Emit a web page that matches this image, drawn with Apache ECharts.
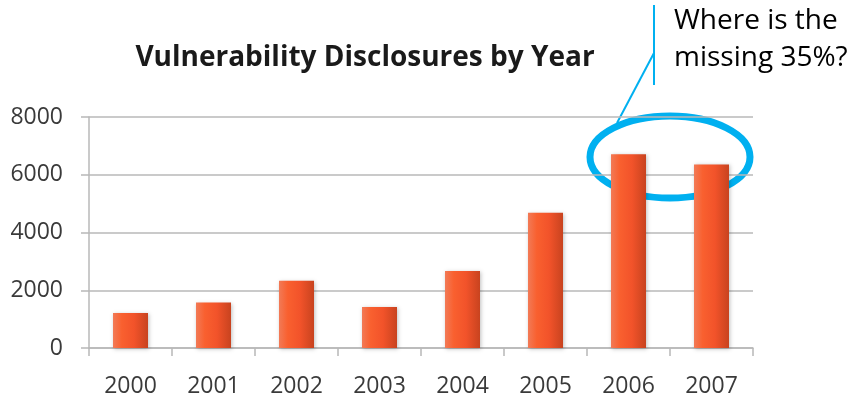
<!DOCTYPE html>
<html>
<head>
<meta charset="utf-8">
<script src="https://cdn.jsdelivr.net/npm/echarts@6/dist/echarts.min.js"></script>
<style>
  html, body { margin: 0; padding: 0; background: #ffffff; }
  #chart { width: 850px; height: 405px; }
</style>
</head>
<body>
<div id="chart"></div>
<script>
// Yearly vulnerability disclosure counts
const years = ['2000', '2001', '2002', '2003', '2004', '2005', '2006', '2007'];
const disclosures = [1210, 1575, 2325, 1420, 2670, 4680, 6710, 6355];
const yTicks = [0, 2000, 4000, 6000, 8000];
const titleText = 'Vulnerability Disclosures by Year';
const calloutLines = ['Where is the', 'missing 35%?'];

const chart = echarts.init(document.getElementById('chart'));

const barFill = new echarts.graphic.LinearGradient(0, 0, 1, 0, [
  { offset: 0, color: '#f27a56' },
  { offset: 0.25, color: '#f9602f' },
  { offset: 0.6, color: '#f2532a' },
  { offset: 1, color: '#c8431f' }
]);

chart.setOption({
  animation: false,
  title: {
    text: titleText,
    left: 360,
    top: 39,
    textAlign: 'center',
    textStyle: {
      fontFamily: 'Open Sans',
      fontWeight: 'bold',
      fontSize: 28,
      color: '#1a1a1a'
    }
  },
  grid: { left: 89, right: 97, top: 117, bottom: 57 },
  xAxis: {
    type: 'category',
    data: years,
    axisLine: { show: true, lineStyle: { color: '#b8b8b8', width: 1.5 } },
    axisTick: { show: true, length: 8, lineStyle: { color: '#b8b8b8', width: 1.5 } },
    axisLabel: {
      margin: 27,
      fontFamily: 'Open Sans',
      fontSize: 23,
      color: '#3a3a3a'
    }
  },
  yAxis: {
    type: 'value',
    min: yTicks[0],
    max: yTicks[yTicks.length - 1],
    interval: yTicks[1] - yTicks[0],
    axisLine: { show: true, lineStyle: { color: '#b8b8b8', width: 1.5 } },
    axisTick: { show: true, length: 8, lineStyle: { color: '#b8b8b8', width: 1.5 } },
    splitLine: { show: true, lineStyle: { color: '#b8b8b8', width: 1.5 } },
    axisLabel: {
      margin: 26,
      fontFamily: 'Open Sans',
      fontSize: 23,
      color: '#3a3a3a',
      formatter: (v) => String(v)
    }
  },
  series: [{
    type: 'bar',
    data: disclosures,
    barWidth: 35,
    itemStyle: {
      color: barFill,
      shadowColor: 'rgba(0,0,0,0.25)',
      shadowBlur: 4,
      shadowOffsetX: 1,
      shadowOffsetY: 1
    }
  }],
  graphic: [
    {
      type: 'line',
      shape: { x1: 654, y1: 5, x2: 654, y2: 85 },
      style: { stroke: '#00b0f0', lineWidth: 2 }
    },
    {
      type: 'line',
      shape: { x1: 654, y1: 53, x2: 617, y2: 123 },
      style: { stroke: '#00b0f0', lineWidth: 2 }
    },
    {
      type: 'ellipse',
      shape: { cx: 670, cy: 157, rx: 80, ry: 41 },
      style: { fill: 'none', stroke: '#00b0f0', lineWidth: 7 }
    },
    {
      type: 'text',
      left: 674,
      top: 3,
      style: {
        text: calloutLines.join('\n'),
        font: '28px "Open Sans"',
        lineHeight: 37,
        fill: '#000000'
      }
    }
  ]
});
</script>
</body>
</html>
